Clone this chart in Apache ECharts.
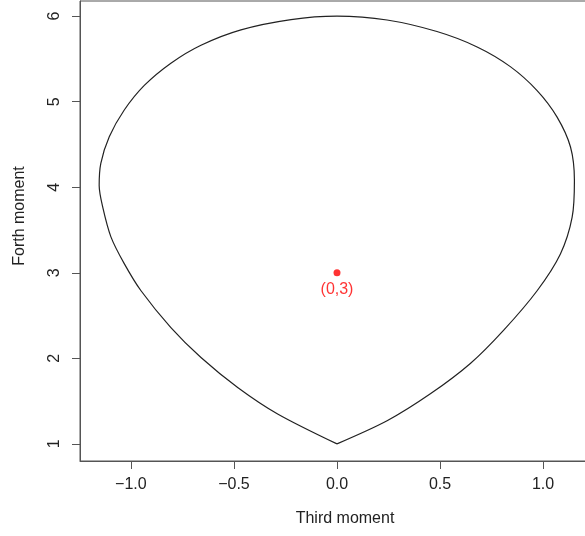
<!DOCTYPE html>
<html>
<head>
<meta charset="utf-8">
<script src="https://cdn.jsdelivr.net/npm/echarts@6/dist/echarts.min.js"></script>
<style>
html,body{margin:0;padding:0;background:#fff;}
#c{width:585px;height:536px;}
</style>
</head>
<body>
<div id="c"></div>
<script>
// Boundary curve: from the cusp, round the left, over the top, down the right
var thirdMoment = [0, -0.288, -0.482, -0.660, -0.806, -0.951, -1.033, -1.097, -1.137, -1.154, -1.146, -1.105, -1.033, -0.935, -0.806, -0.660, -0.466, -0.223, 0, 0.243, 0.485, 0.680, 0.841, 0.971, 1.068, 1.133, 1.152, 1.141, 1.084, 0.971, 0.809, 0.647, 0.453, 0.243, 0];
var forthMoment = [1.0, 1.35, 1.66, 2.01, 2.36, 2.79, 3.11, 3.42, 3.77, 4.02, 4.28, 4.59, 4.90, 5.19, 5.45, 5.66, 5.84, 5.96, 6.0, 5.955, 5.82, 5.64, 5.41, 5.13, 4.82, 4.47, 4.08, 3.65, 3.22, 2.79, 2.33, 1.94, 1.585, 1.27, 1.0];
var normalPoint = [0, 3];
var normalLabel = "(0,3)";
var xTicks = [-1.0, -0.5, 0.0, 0.5, 1.0];
var yTicks = [1, 2, 3, 4, 5, 6];
var xTitle = "Third moment";
var yTitle = "Forth moment";

var curve = thirdMoment.map(function (x, i) { return [x, forthMoment[i]]; });
var font = "'Liberation Sans', Arial, Helvetica, sans-serif";
var axisColor = "#555";

var chart = echarts.init(document.getElementById('c'), null, { renderer: 'canvas' });
chart.setOption({
  animation: false,
  backgroundColor: '#fff',
  grid: {
    left: 80, top: 1, width: 514, height: 460,
    containLabel: false, outerBoundsMode: 'none',
    show: true, borderColor: axisColor, borderWidth: 1, backgroundColor: 'transparent'
  },
  xAxis: {
    type: 'value', min: -1.247, max: 1.247,
    name: xTitle, nameLocation: 'middle', nameGap: 50,
    nameTextStyle: { fontFamily: font, fontSize: 16, color: '#222', padding: [0, 0, 0, 16] },
    axisLine: { show: true, onZero: false, lineStyle: { color: axisColor, width: 1 } },
    axisTick: { show: true, inside: false, length: 8, customValues: xTicks, lineStyle: { color: axisColor } },
    axisLabel: {
      customValues: xTicks, margin: 16, fontFamily: font, fontSize: 16, color: '#222',
      formatter: function (v) { return v.toFixed(1).replace('-', '\u2212'); }
    },
    splitLine: { show: false }
  },
  yAxis: {
    type: 'value', min: 0.8, max: 6.177,
    name: yTitle, nameLocation: 'middle', nameGap: 52, nameRotate: 90,
    nameTextStyle: { fontFamily: font, fontSize: 16, color: '#222', padding: [0, 0, 0, 30] },
    axisLine: { show: true, onZero: false, lineStyle: { color: axisColor, width: 1 } },
    axisTick: { show: true, inside: false, length: 8, customValues: yTicks, lineStyle: { color: axisColor } },
    axisLabel: {
      customValues: yTicks, margin: 17, rotate: 90, fontFamily: font, fontSize: 16, color: '#222',
      formatter: function (v) { return String(Math.round(v)); }
    },
    splitLine: { show: false }
  },
  series: [
    {
      type: 'line', data: curve, smooth: 0.3, showSymbol: false,
      lineStyle: { color: '#222', width: 1.2 }, silent: true
    },
    {
      type: 'scatter', data: [normalPoint], symbol: 'circle', symbolSize: 7,
      itemStyle: { color: '#ff0000' },
      label: {
        show: true, position: 'bottom', distance: 5, formatter: normalLabel,
        fontFamily: font, fontSize: 16, color: '#ff0000'
      }
    }
  ]
});
</script>
</body>
</html>
